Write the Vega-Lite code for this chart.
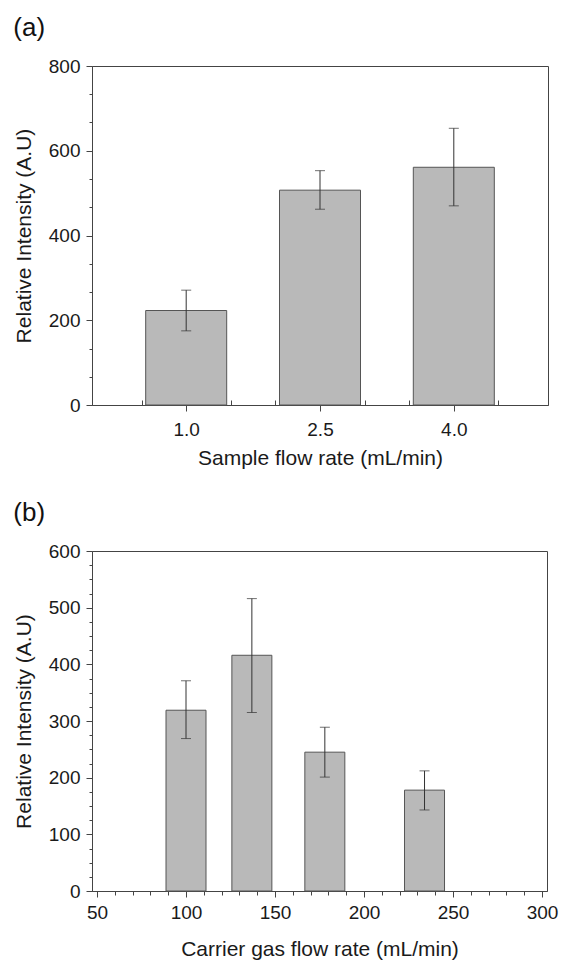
{
  "$schema": "https://vega.github.io/schema/vega-lite/v6.json",
  "padding": {"left": 12, "top": 14, "right": 14, "bottom": 2},
  "background": "white",
  "config": {
    "font": "Liberation Sans",
    "view": {"stroke": "#444", "strokeWidth": 1},
    "axis": {
      "grid": false,
      "domainColor": "#444",
      "tickColor": "#444",
      "labelColor": "#1a1a1a",
      "titleColor": "#1a1a1a",
      "labelFont": "Liberation Sans",
      "titleFont": "Liberation Sans",
      "labelFontSize": 19,
      "titleFontSize": 21,
      "titleFontWeight": "normal",
      "labelPadding": 6,
      "labelOverlap": false,
      "labelFlush": false
    },
    "title": {"fontSize": 26, "fontWeight": "normal", "anchor": "start", "frame": "bounds", "color": "#111", "font": "Liberation Sans", "offset": 16}
  },
  "datasets": {
    "a": [
      {"rate": 1.0, "intensity": 223, "lo": 175, "hi": 271},
      {"rate": 2.5, "intensity": 507, "lo": 462, "hi": 553},
      {"rate": 4.0, "intensity": 561, "lo": 470, "hi": 653}
    ],
    "b": [
      {"rate": 100, "intensity": 319, "lo": 269, "hi": 371},
      {"rate": 137, "intensity": 416, "lo": 315, "hi": 516},
      {"rate": 178, "intensity": 245, "lo": 201, "hi": 289},
      {"rate": 234, "intensity": 178, "lo": 143, "hi": 212}
    ]
  },
  "spacing": 30,
  "vconcat": [
    {
      "title": "(a)",
      "width": 456,
      "height": 339,
      "data": {"name": "a"},
      "encoding": {
        "x": {
          "field": "rate", "type": "quantitative",
          "scale": {"domain": [0, 5], "nice": false, "zero": false},
          "axis": {
            "title": "Sample flow rate (mL/min)",
            "values": [0.5, 1, 1.5, 2, 2.5, 3, 3.5, 4, 4.5],
            "labelExpr": "(datum.value == 1 || datum.value == 2.5 || datum.value == 4) ? format(datum.value, '.1f') : ''",
            "tickSize": {"condition": {"test": "datum.value == 1 || datum.value == 2.5 || datum.value == 4", "value": 6}, "value": -5},
            "labelPadding": 9,
            "titlePadding": 8
          }
        }
      },
      "layer": [
        {
          "mark": {"type": "bar", "width": 81, "fill": "#b9b9b9", "stroke": "#555", "strokeWidth": 1},
          "encoding": {
            "y": {
              "field": "intensity", "type": "quantitative",
              "title": "Relative Intensity (A.U)",
              "scale": {"domain": [0, 800], "nice": false},
              "axis": {
                "values": [0, 66.667, 133.333, 200, 266.667, 333.333, 400, 466.667, 533.333, 600, 666.667, 733.333, 800],
                "labelExpr": "datum.value % 200 == 0 ? format(datum.value, 'd') : ''",
                "tickSize": {"condition": {"test": "datum.value % 200 == 0", "value": 6}, "value": 3},
                "titlePadding": 14
              }
            }
          }
        },
        {
          "mark": {"type": "errorbar", "color": "#333", "ticks": {"size": 10, "thickness": 1, "color": "#333"}},
          "encoding": {
            "y": {
              "field": "lo", "type": "quantitative",
              "title": "Relative Intensity (A.U)",
              "axis": {
                "values": [0, 66.667, 133.333, 200, 266.667, 333.333, 400, 466.667, 533.333, 600, 666.667, 733.333, 800],
                "labelExpr": "datum.value % 200 == 0 ? format(datum.value, 'd') : ''",
                "tickSize": {"condition": {"test": "datum.value % 200 == 0", "value": 6}, "value": 3},
                "titlePadding": 14
              }
            },
            "y2": {"field": "hi"}
          }
        }
      ]
    },
    {
      "title": "(b)",
      "width": 455,
      "height": 340,
      "data": {"name": "b"},
      "encoding": {
        "x": {
          "field": "rate", "type": "quantitative",
          "scale": {"domain": [50, 300], "nice": false, "zero": false},
          "axis": {
            "title": "Carrier gas flow rate (mL/min)",
            "values": [50, 60, 70, 80, 90, 100, 110, 120, 130, 140, 150, 160, 170, 180, 190, 200, 210, 220, 230, 240, 250, 260, 270, 280, 290, 300],
            "labelExpr": "datum.value % 50 == 0 ? format(datum.value, 'd') : ''",
            "tickSize": {"condition": {"test": "datum.value % 50 == 0", "value": 6}, "value": 4},
            "labelPadding": 6,
            "titlePadding": 16
          }
        }
      },
      "layer": [
        {
          "mark": {"type": "bar", "width": 40, "fill": "#b9b9b9", "stroke": "#555", "strokeWidth": 1},
          "encoding": {
            "y": {
              "field": "intensity", "type": "quantitative",
              "title": "Relative Intensity (A.U)",
              "scale": {"domain": [0, 600], "nice": false},
              "axis": {
                "values": [0, 25, 50, 75, 100, 125, 150, 175, 200, 225, 250, 275, 300, 325, 350, 375, 400, 425, 450, 475, 500, 525, 550, 575, 600],
                "labelExpr": "datum.value % 100 == 0 ? format(datum.value, 'd') : ''",
                "tickSize": {"condition": {"test": "datum.value % 100 == 0", "value": 6}, "value": 3},
                "titlePadding": 14
              }
            }
          }
        },
        {
          "mark": {"type": "errorbar", "color": "#333", "ticks": {"size": 10, "thickness": 1, "color": "#333"}},
          "encoding": {
            "y": {
              "field": "lo", "type": "quantitative",
              "title": "Relative Intensity (A.U)",
              "axis": {
                "values": [0, 25, 50, 75, 100, 125, 150, 175, 200, 225, 250, 275, 300, 325, 350, 375, 400, 425, 450, 475, 500, 525, 550, 575, 600],
                "labelExpr": "datum.value % 100 == 0 ? format(datum.value, 'd') : ''",
                "tickSize": {"condition": {"test": "datum.value % 100 == 0", "value": 6}, "value": 3},
                "titlePadding": 14
              }
            },
            "y2": {"field": "hi"}
          }
        }
      ]
    }
  ]
}
